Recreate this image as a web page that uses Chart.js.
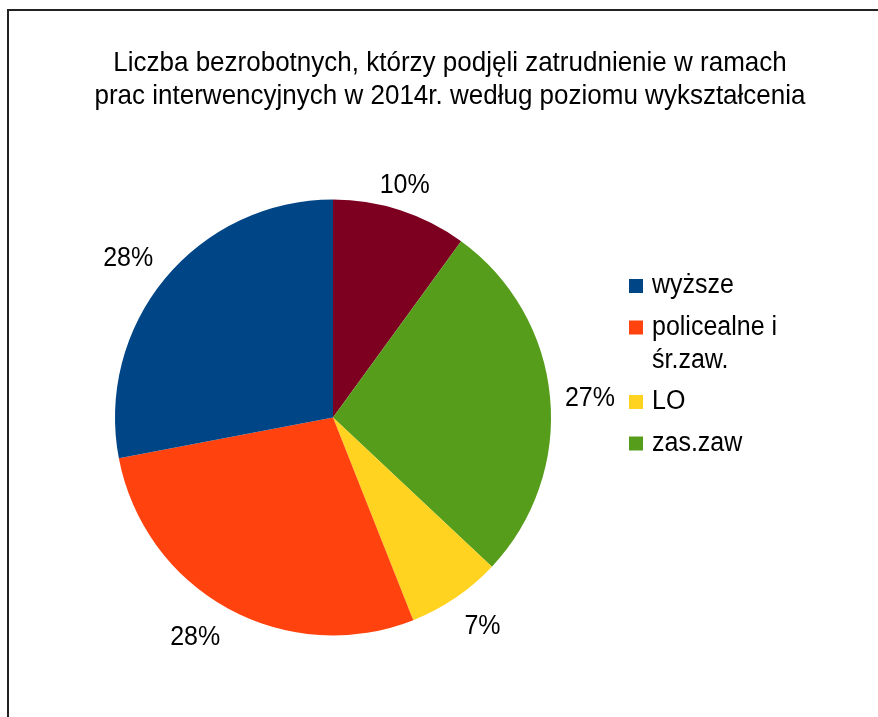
<!DOCTYPE html>
<html>
<head>
<meta charset="utf-8">
<script src="https://cdn.jsdelivr.net/npm/chart.js@4"></script>
<style>
  html, body { margin: 0; padding: 0; background: #fff; overflow: hidden; }
  #wrap { position: relative; width: 878px; height: 717px; }
  #frame { position: absolute; left: 7px; top: 9px; width: 900px; height: 800px;
           border-left: 2px solid #222; border-top: 2px solid #222; box-sizing: border-box; }
  canvas { position: absolute; left: 0; top: 0; }
</style>
</head>
<body>
<div id="wrap">
  <div id="frame"></div>
  <canvas id="c" width="878" height="717"></canvas>
</div>
<script>
// Slices in clockwise order from 12 o'clock
const categories = ['gimnazjalne i poniżej', 'zas.zaw', 'LO', 'policealne i śr.zaw.', 'wyższe'];
const shares = [10, 27, 7, 28, 28];
const colors = ['#7e0021', '#579d1c', '#ffd320', '#ff420e', '#004586'];
// Legend entries (top to bottom) with their wrapped lines
const legendItems = [
  { idx: 4, lines: ['wyższe'] },
  { idx: 3, lines: ['policealne i', 'śr.zaw.'] },
  { idx: 2, lines: ['LO'] },
  { idx: 1, lines: ['zas.zaw'] }
];
const titleLines = [
  'Liczba bezrobotnych, którzy podjęli zatrudnienie w ramach',
  'prac interwencyjnych w 2014r. według poziomu wykształcenia'
];

const FAMILY = '"Liberation Sans", Arial, sans-serif';
const STRETCH = 1.08; // glyphs are drawn slightly taller than wide

function tallText(ctx, txt, x, y) {
  ctx.save();
  ctx.translate(x, y);
  ctx.scale(1, STRETCH);
  ctx.fillText(txt, 0, 0);
  ctx.restore();
}

const overlay = {
  id: 'overlay',
  afterDraw(chart) {
    const ctx = chart.ctx;
    ctx.save();
    ctx.fillStyle = '#000';
    ctx.textBaseline = 'middle';

    // title
    ctx.font = '26px ' + FAMILY;
    ctx.textAlign = 'center';
    tallText(ctx, titleLines[0], 450, 63);
    tallText(ctx, titleLines[1], 450, 96);

    // percentage labels outside each slice: the label box is anchored at a
    // point just outside the rim, with its side/corner chosen by compass sector
    ctx.font = '25px ' + FAMILY;
    const meta = chart.getDatasetMeta(0);
    const total = shares.reduce((a, b) => a + b, 0);
    meta.data.forEach((arc, i) => {
      const p = arc.getProps(['x', 'y', 'startAngle', 'endAngle', 'outerRadius'], true);
      const mid = (p.startAngle + p.endAngle) / 2;
      const txt = Math.round(shares[i] / total * 100) + '%';
      const halfW = ctx.measureText(txt).width / 2 + 1;
      const halfH = 14;
      const R = p.outerRadius + 14;
      const ax = p.x + Math.cos(mid) * R;
      const ay = p.y + Math.sin(mid) * R;
      const deg = Math.atan2(-Math.sin(mid), Math.cos(mid)) * 180 / Math.PI;
      const sx = Math.abs(deg) < 67.5 ? 1 : (Math.abs(deg) > 112.5 ? -1 : 0);
      const sy = (deg > 22.5 && deg < 157.5) ? -1 : ((deg < -22.5 && deg > -157.5) ? 1 : 0);
      tallText(ctx, txt, ax + sx * halfW, ay + sy * halfH + 3);
    });

    // legend
    ctx.textAlign = 'left';
    let y = 286;
    legendItems.forEach(item => {
      ctx.fillStyle = colors[item.idx];
      ctx.fillRect(629, y - 7, 14, 14);
      ctx.fillStyle = '#000';
      item.lines.forEach((ln, k) => {
        tallText(ctx, ln, 652, y + k * 33);
      });
      y += 41.5 + (item.lines.length - 1) * 33;
    });
    ctx.restore();
  }
};

new Chart(document.getElementById('c'), {
  type: 'pie',
  data: {
    labels: categories,
    datasets: [{
      data: shares,
      backgroundColor: colors,
      borderWidth: 0
    }]
  },
  options: {
    responsive: false,
    animation: false,
    layout: { padding: { left: 115, right: 327, top: 199, bottom: 81 } },
    plugins: {
      legend: { display: false },
      title: { display: false },
      tooltip: { enabled: false }
    }
  },
  plugins: [overlay]
});
</script>
</body>
</html>
